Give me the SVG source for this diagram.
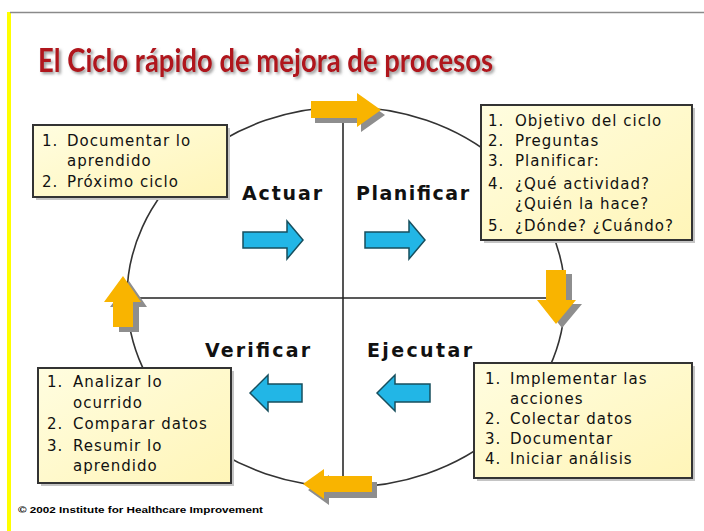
<svg xmlns="http://www.w3.org/2000/svg" width="704" height="531" viewBox="0 0 704 531">
<defs>
<linearGradient id="boxg" x1="0" y1="0" x2="1" y2="1">
<stop offset="0" stop-color="#fffde0"/>
<stop offset="1" stop-color="#fff5b8"/>
</linearGradient>
<filter id="tshadow" x="-5%" y="-30%" width="110%" height="160%">
<feDropShadow dx="2" dy="2" stdDeviation="1.4" flood-color="#808080" flood-opacity="0.8"/>
</filter>
</defs>
<style>
.frame{stroke:#8a8a8a;stroke-width:1.5;fill:none}
.ring{fill:none;stroke:#333;stroke-width:1.6}
.axis{stroke:#555;stroke-width:2}
.gold{fill:#f9b400}
.gshadow{fill:#8e8e8e}
.cyan{fill:#22b6e6;stroke:#174f5e;stroke-width:1.5;stroke-linejoin:miter}
.box{fill:url(#boxg);stroke:#333;stroke-width:2}
.bshadow{fill:#c4c4c4}
.t{font-family:"DejaVu Sans",Verdana,sans-serif;font-size:15px;fill:#111;letter-spacing:1px}
.lbl{font-family:"DejaVu Sans",Verdana,sans-serif;font-weight:bold;font-size:19px;fill:#111}
.title{font-family:Lato,"Liberation Sans",Arial,sans-serif;font-weight:bold;font-size:33px;fill:#b0121e}
</style>
<rect x="0" y="0" width="704" height="531" fill="#fff"/>
<rect x="7" y="12" width="4" height="519" fill="#ffff00"/>
<line x1="10" y1="12.5" x2="704" y2="12.5" class="frame"/>

<text x="38" y="72" class="title" filter="url(#tshadow)" textLength="455" lengthAdjust="spacingAndGlyphs">El Ciclo rápido de mejora de procesos</text>

<g id="connectors">
<ellipse cx="346" cy="297" rx="219" ry="190" class="ring"/>
<line x1="343" y1="118" x2="343" y2="476" class="axis"/>
<line x1="128" y1="298" x2="552" y2="298" stroke="#222" stroke-width="1.6"/>
</g>

<g id="arrow-top">
<path class="gshadow" d="M315,106 H361 V98 L385,115 L361,132 V123 H315 Z"/>
<path class="gold" d="M311,101 H357 V93 L381,110 L357,127 V118 H311 Z"/>
</g>
<g id="arrow-right">
<path class="gshadow" d="M552,274 H572 V304 H582 L562,328 L543,304 H552 Z"/>
<path class="gold" d="M546,270 H566 V300 H576 L556,324 L537,300 H546 Z"/>
</g>
<g id="arrow-bottom">
<path class="gshadow" d="M308,490 L329,475 V482 H377 V498 H329 V505 Z"/>
<path class="gold" d="M303,484 L324,469 V476 H372 V492 H324 V499 Z"/>
</g>
<g id="arrow-left">
<path class="gshadow" d="M129,281 L147,307 H139 V332 H119 V307 H110 Z"/>
<path class="gold" d="M123,276 L141,302 H133 V327 H113 V302 H104 Z"/>
</g>

<g id="box-actuar">
<rect x="36" y="128" width="194" height="72" class="bshadow"/>
<rect x="33" y="125" width="194" height="72" class="box"/>
<text class="t" x="42" y="146">1.</text><text class="t" x="67" y="146">Documentar lo</text>
<text class="t" x="67" y="166">aprendido</text>
<text class="t" x="42" y="187">2.</text><text class="t" x="67" y="187">Próximo ciclo</text>
</g>

<g id="box-planificar">
<rect x="484" y="108" width="211" height="135" class="bshadow"/>
<rect x="481" y="105" width="211" height="135" class="box"/>
<text class="t" x="488" y="126">1.</text><text class="t" x="515" y="126">Objetivo del ciclo</text>
<text class="t" x="488" y="146">2.</text><text class="t" x="515" y="146">Preguntas</text>
<text class="t" x="488" y="166">3.</text><text class="t" x="515" y="166">Planificar:</text>
<text class="t" x="488" y="189">4.</text><text class="t" x="515" y="189">¿Qué actividad?</text>
<text class="t" x="515" y="209">¿Quién la hace?</text>
<text class="t" x="488" y="231">5.</text><text class="t" x="515" y="231">¿Dónde? ¿Cuándo?</text>
</g>

<g id="box-verificar">
<rect x="41" y="371" width="193" height="115" class="bshadow"/>
<rect x="38" y="368" width="193" height="115" class="box"/>
<text class="t" x="47" y="387">1.</text><text class="t" x="73" y="387">Analizar lo</text>
<text class="t" x="73" y="408">ocurrido</text>
<text class="t" x="47" y="429">2.</text><text class="t" x="73" y="429">Comparar datos</text>
<text class="t" x="47" y="451">3.</text><text class="t" x="73" y="451">Resumir lo</text>
<text class="t" x="73" y="471">aprendido</text>
</g>

<g id="box-ejecutar">
<rect x="477" y="366" width="218" height="115" class="bshadow"/>
<rect x="474" y="363" width="218" height="115" class="box"/>
<text class="t" x="485" y="384">1.</text><text class="t" x="510" y="384">Implementar las</text>
<text class="t" x="510" y="404">acciones</text>
<text class="t" x="485" y="424">2.</text><text class="t" x="510" y="424">Colectar datos</text>
<text class="t" x="485" y="444">3.</text><text class="t" x="510" y="444">Documentar</text>
<text class="t" x="485" y="464">4.</text><text class="t" x="510" y="464">Iniciar análisis</text>
</g>

<g id="phase-actuar">
<text class="lbl" x="242" y="200" textLength="80" lengthAdjust="spacing">Actuar</text>
<path class="cyan" d="M243,232 H287 V221 L303,240 L287,259 V248 H243 Z"/>
</g>
<g id="phase-planificar">
<text class="lbl" x="356" y="200" textLength="113" lengthAdjust="spacing">Planificar</text>
<path class="cyan" d="M365,232 H409 V221 L425,240 L409,259 V248 H365 Z"/>
</g>
<g id="phase-verificar">
<text class="lbl" x="205" y="357" textLength="105" lengthAdjust="spacing">Verificar</text>
<path class="cyan" d="M250,393 L268,375 V384 H302 V402 H268 V411 Z"/>
</g>
<g id="phase-ejecutar">
<text class="lbl" x="367" y="357" textLength="105" lengthAdjust="spacing">Ejecutar</text>
<path class="cyan" d="M377,393 L395,375 V384 H430 V402 H395 V411 Z"/>
</g>

<text x="18" y="513" font-family="'Liberation Sans',Arial,sans-serif" font-weight="bold" font-size="9" fill="#000" textLength="245" lengthAdjust="spacingAndGlyphs">© 2002 Institute for Healthcare Improvement</text>
</svg>
